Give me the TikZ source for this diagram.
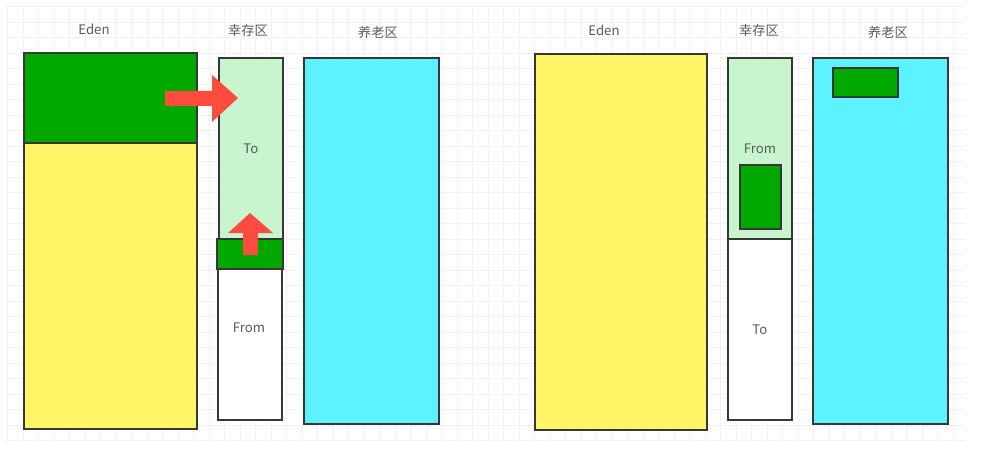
\documentclass[tikz,border=0pt]{standalone}
\usepackage{fontspec}
\setmainfont{Noto Sans CJK SC}
\usepackage{tikz}

\definecolor{objgreen}{RGB}{0,168,0}
\definecolor{edenyellow}{RGB}{255,245,102}
\definecolor{survgreen}{RGB}{200,245,205}
\definecolor{oldcyan}{RGB}{92,242,255}
\definecolor{movered}{RGB}{255,76,62}
\definecolor{boxline}{RGB}{55,55,55}
\definecolor{labelgray}{RGB}{90,90,90}
\definecolor{gridgray}{RGB}{241,241,241}

\begin{document}
\begin{tikzpicture}[x=0.02cm,y=-0.02cm]
  \tikzstyle{region}=[draw=boxline,line width=1pt,inner sep=0pt,anchor=north west,
    text=labelgray,font=\fontsize{7.5}{9}\selectfont]
  \tikzstyle{title}=[text=labelgray,font=\fontsize{7.5}{9}\selectfont]
  \tikzstyle{gridline}=[gridgray,line width=0.5pt]

  \useasboundingbox (0,0) rectangle (1000,449);

  % background grid
  \foreach \i in {0,...,61}
    \draw[gridline] (7.8+15.5*\i,5) -- (7.8+15.5*\i,442);
  \foreach \j in {0,...,28}
    \draw[gridline] (8,6.5+15.5*\j) -- (965,6.5+15.5*\j);

  % before minor GC
  \node[title] (edenA) at (94,29) {Eden};
  \node[title] (survA) at (248,31) {幸存区};
  \node[title] (oldA) at (378,32) {养老区};

  \node[region,fill=edenyellow,minimum width=3.46cm,minimum height=5.72cm] (yellowA) at (23,142) {};
  \node[region,fill=objgreen,minimum width=3.46cm,minimum height=1.8cm] (liveA) at (23,52) {};
  \node[region,fill=survgreen,minimum width=1.28cm,minimum height=3.62cm] (toA) at (218,57) {To};
  \node[region,fill=white,minimum width=1.28cm,minimum height=3.02cm] (fromA) at (217,268) {};
  \node[region,fill=objgreen,minimum width=1.32cm,minimum height=0.6cm] (survobjA) at (216,238) {};
  \node[title] (fromlblA) at (249,328) {From};
  \node[region,fill=oldcyan,minimum width=2.7cm,minimum height=7.32cm] (oldboxA) at (303,57) {};

  % copy arrows
  \fill[movered] (165,91) -- (212,91) -- (212,75) -- (238,98) -- (212,122)
    -- (212,106) -- (165,106) -- cycle;
  \fill[movered] (243,255) -- (243,233) -- (228,233) -- (250,213) -- (273,233)
    -- (258,233) -- (258,255) -- cycle;

  % after minor GC
  \node[title] (edenB) at (604,30) {Eden};
  \node[title] (survB) at (759,31) {幸存区};
  \node[title] (oldB) at (888,32) {养老区};

  \node[region,fill=edenyellow,minimum width=3.44cm,minimum height=7.52cm] (yellowB) at (534,53) {};
  \node[region,fill=survgreen,minimum width=1.28cm,minimum height=3.62cm] (fromB) at (727,57) {From};
  \node[region,fill=white,minimum width=1.28cm,minimum height=3.62cm] (toB) at (727,238) {To};
  \node[region,fill=objgreen,minimum width=0.82cm,minimum height=1.28cm] (survobjB) at (739,164) {};
  \node[region,fill=oldcyan,minimum width=2.7cm,minimum height=7.32cm] (oldboxB) at (812,57) {};
  \node[region,fill=objgreen,minimum width=1.3cm,minimum height=0.58cm] (oldobjB) at (832,67) {};
\end{tikzpicture}
\end{document}
